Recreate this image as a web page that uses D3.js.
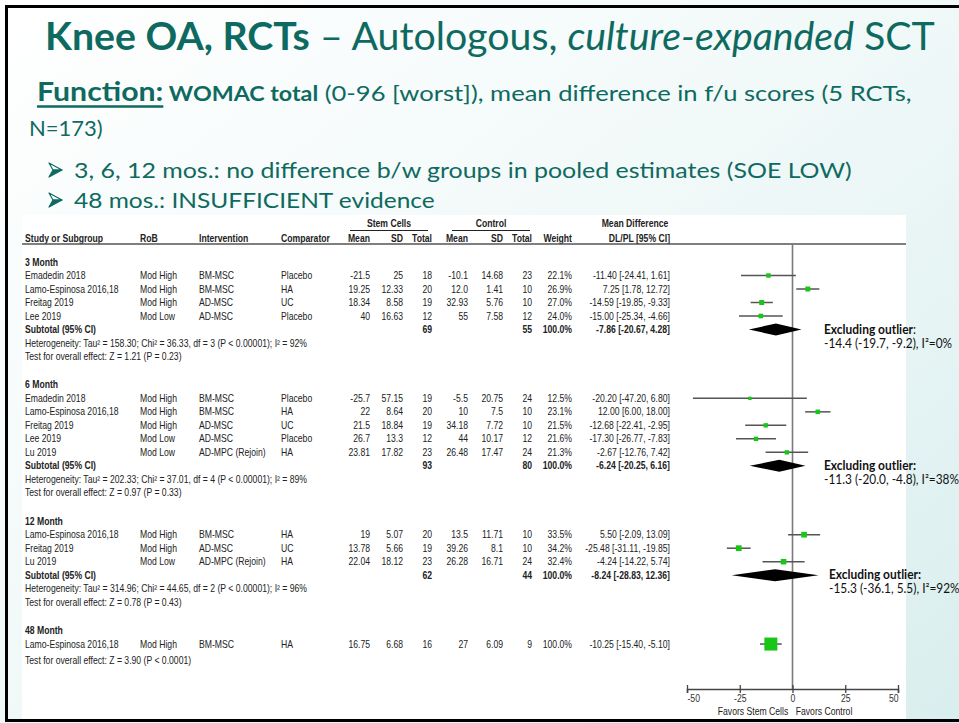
<!DOCTYPE html>
<html lang="en">
<head>
<meta charset="UTF-8">
<title>Knee OA, RCTs – WOMAC total</title>
<script src="https://cdnjs.cloudflare.com/ajax/libs/d3/7.8.5/d3.min.js"></script>
<style>
  body { margin: 0; background: #fff; }
  svg { display: block; }
  .tbl { font-family: "Liberation Sans", Arial, sans-serif; font-size: 10px; fill: #222; }
  .slide { font-family: Lato, "Noto Sans", sans-serif; white-space: pre; }
</style>
</head>
<body>
<svg id="chart" width="959" height="723"></svg>
<script>
// ---- data ----
const groups = ["3 Month", "6 Month", "12 Month", "48 Month"];
const studyGroup = [0, 0, 0, 0, 1, 1, 1, 1, 1, 2, 2, 2, 3];
const studyName = ["Emadedin 2018", "Lamo-Espinosa 2016,18", "Freitag 2019", "Lee 2019",
  "Emadedin 2018", "Lamo-Espinosa 2016,18", "Freitag 2019", "Lee 2019", "Lu 2019",
  "Lamo-Espinosa 2016,18", "Freitag 2019", "Lu 2019",
  "Lamo-Espinosa 2016,18"];
const rob = ["Mod High", "Mod High", "Mod High", "Mod Low",
  "Mod High", "Mod High", "Mod High", "Mod Low", "Mod Low",
  "Mod High", "Mod High", "Mod Low",
  "Mod High"];
const intervention = ["BM-MSC", "BM-MSC", "AD-MSC", "AD-MSC",
  "BM-MSC", "BM-MSC", "AD-MSC", "AD-MSC", "AD-MPC (Rejoin)",
  "BM-MSC", "AD-MSC", "AD-MPC (Rejoin)",
  "BM-MSC"];
const comparator = ["Placebo", "HA", "UC", "Placebo",
  "Placebo", "HA", "UC", "Placebo", "HA",
  "HA", "UC", "HA",
  "HA"];
const scMean = ["-21.5", "19.25", "18.34", "40", "-25.7", "22", "21.5", "26.7", "23.81", "19", "13.78", "22.04", "16.75"];
const scSD = ["25", "12.33", "8.58", "16.63", "57.15", "8.64", "18.84", "13.3", "17.82", "5.07", "5.66", "18.12", "6.68"];
const scN = [18, 20, 19, 12, 19, 20, 19, 12, 23, 20, 19, 23, 16];
const ctMean = ["-10.1", "12.0", "32.93", "55", "-5.5", "10", "34.18", "44", "26.48", "13.5", "39.26", "26.28", "27"];
const ctSD = ["14.68", "1.41", "5.76", "7.58", "20.75", "7.5", "7.72", "10.17", "17.47", "11.71", "8.1", "16.71", "6.09"];
const ctN = [23, 10, 10, 12, 24, 10, 10, 12, 24, 10, 10, 24, 9];
const weight = [22.1, 26.9, 27.0, 24.0, 12.5, 23.1, 21.5, 21.6, 21.3, 33.5, 34.2, 32.4, 100.0];
const md = [-11.40, 7.25, -14.59, -15.00, -20.20, 12.00, -12.68, -17.30, -2.67, 5.50, -25.48, -4.24, -10.25];
const ciLo = [-24.41, 1.78, -19.85, -25.34, -47.20, 6.00, -22.41, -26.77, -12.76, -2.09, -31.11, -14.22, -15.40];
const ciHi = [1.61, 12.72, -9.33, -4.66, 6.80, 18.00, -2.95, -7.83, 7.42, 13.09, -19.85, 5.74, -5.10];

const subN1 = [69, 93, 62, null];
const subN2 = [55, 80, 44, null];
const subMD = [-7.86, -6.24, -8.24, null];
const subLo = [-20.67, -20.25, -28.83, null];
const subHi = [4.28, 6.16, 12.36, null];
const hetText = [
  "Heterogeneity: Tau² = 158.30; Chi² = 36.33, df = 3 (P < 0.00001); I² = 92%",
  "Heterogeneity: Tau² = 202.33; Chi² = 37.01, df = 4 (P < 0.00001); I² = 89%",
  "Heterogeneity: Tau² = 314.96; Chi² = 44.65, df = 2 (P < 0.00001); I² = 96%",
  null];
const testText = [
  "Test for overall effect: Z = 1.21 (P = 0.23)",
  "Test for overall effect: Z = 0.97 (P = 0.33)",
  "Test for overall effect: Z = 0.78 (P = 0.43)",
  "Test for overall effect: Z = 3.90 (P < 0.0001)"];
const noteEst = ["-14.4 (-19.7, -9.2), I²=0%", "-11.3 (-20.0, -4.8), I²=38%", "-15.3 (-36.1, 5.5), I²=92%", null];

const axisTicks = [-50, -25, 0, 25, 50];
const favorsLabels = ["Favors Stem Cells", "Favors Control"];

// ---- drawing ----
const svg = d3.select("#chart");
const teal = "#0e6a60";
const loc = d3.formatLocale({ decimal: ".", thousands: ",", grouping: [3], currency: ["", ""], minus: "-" });

const defs = svg.append("defs");
const grad = defs.append("linearGradient").attr("id", "bg")
  .attr("x1", 0).attr("y1", 0).attr("x2", 1).attr("y2", 1);
grad.append("stop").attr("offset", "0%").attr("stop-color", "#ffffff");
grad.append("stop").attr("offset", "45%").attr("stop-color", "#f2f9f9");
grad.append("stop").attr("offset", "100%").attr("stop-color", "#d9eeee");

svg.append("rect").attr("width", 959).attr("height", 723).attr("fill", "url(#bg)");

// slide text lines, squeezed to the widths seen on the slide
function slideLine(x, y, segs, width) {
  const g = svg.append("g").attr("transform", `translate(${x},${y})`);
  const inner = g.append("g");
  const t = inner.append("text").attr("class", "slide").attr("fill", teal);
  const spans = segs.map(s => t.append("tspan")
    .attr("font-size", s.size)
    .attr("font-weight", s.bold ? 700 : 400)
    .attr("font-style", s.italic ? "italic" : "normal")
    .text(s.text));
  let k = 1;
  if (width) {
    k = width / t.node().getComputedTextLength();
    inner.attr("transform", `scale(${k},1)`);
  }
  return { inner, spans, k };
}

slideLine(45, 50, [
  { text: "Knee OA, RCTs", size: 38, bold: true },
  { text: " – Autologous, ", size: 38 },
  { text: "culture-expanded", size: 38, italic: true },
  { text: " SCT", size: 38 }
], 890);

const fn = slideLine(37, 101, [
  { text: "Function:", size: 26, bold: true },
  { text: " WOMAC total", size: 20, bold: true },
  { text: " (0-96 [worst]), mean difference in f/u scores (5 RCTs,", size: 22 }
], 875);
const fnW = fn.spans[0].node().getComputedTextLength();
fn.inner.append("line").attr("x1", 0).attr("x2", fnW).attr("y1", 5.5).attr("y2", 5.5)
  .attr("stroke", teal).attr("stroke-width", 2.4);

slideLine(29, 136, [{ text: "N=173)", size: 22 }]);

// 3-D arrowhead bullets
[170, 200].forEach(cy => {
  const b = svg.append("g").attr("transform", `translate(49,${cy})`);
  b.append("path").attr("d", "M0,-7L13,0L4,0Z").attr("fill", "#fff")
    .attr("stroke", teal).attr("stroke-width", 1.2).attr("stroke-linejoin", "round");
  b.append("path").attr("d", "M4,0L13,0L0,7Z").attr("fill", teal)
    .attr("stroke", teal).attr("stroke-width", 1.2).attr("stroke-linejoin", "round");
});
slideLine(74, 178, [{ text: "3, 6, 12 mos.: no difference b/w groups in pooled estimates (SOE LOW)", size: 22 }], 778);
slideLine(74, 208, [{ text: "48 mos.: INSUFFICIENT evidence", size: 22 }], 361);

// white forest-plot panel
svg.append("rect").attr("x", 22).attr("y", 215).attr("width", 884).attr("height", 505).attr("fill", "#fff");

const tbl = svg.append("g").attr("class", "tbl");
const sx = 0.865;
function cell(x, y, str, anchor, bold) {
  tbl.append("text")
    .attr("transform", `translate(${x},${y}) scale(${sx},1)`)
    .attr("dy", "0.36em")
    .attr("text-anchor", anchor || "start")
    .attr("font-weight", bold ? 700 : 400)
    .text(str);
}

const col = {
  name: 25, rob: 140, inter: 199, comp: 281,
  scMean: 370, scSD: 403, scN: 432, ctMean: 468, ctSD: 503, ctN: 532, weight: 572, md: 670
};

// header
cell(389, 223, "Stem Cells", "middle", true);
cell(491, 223, "Control", "middle", true);
cell(635, 223, "Mean Difference", "middle", true);
[[350, 428], [452, 530]].forEach(([a, b]) =>
  tbl.append("line").attr("x1", a).attr("x2", b).attr("y1", 230.5).attr("y2", 230.5)
    .attr("stroke", "#222").attr("stroke-width", 1));
cell(col.name, 238, "Study or Subgroup", "start", true);
cell(col.rob, 238, "RoB", "start", true);
cell(col.inter, 238, "Intervention", "start", true);
cell(col.comp, 238, "Comparator", "start", true);
cell(col.scMean, 238, "Mean", "end", true);
cell(col.scSD, 238, "SD", "end", true);
cell(col.scN, 238, "Total", "end", true);
cell(col.ctMean, 238, "Mean", "end", true);
cell(col.ctSD, 238, "SD", "end", true);
cell(col.ctN, 238, "Total", "end", true);
cell(col.weight, 238, "Weight", "end", true);
cell(col.md, 238, "DL/PL [95% CI]", "end", true);
svg.append("line").attr("x1", 22).attr("x2", 906).attr("y1", 244).attr("y2", 244)
  .attr("stroke", "#555").attr("stroke-width", 1.6);

// row layout: one index per printed line
const lineY = d3.scaleLinear().domain([0, 1]).range([262, 275.5]);
const rows = [];
let idx = 0;
groups.forEach((gName, g) => {
  rows.push({ type: "group", g, i: idx++ });
  studyName.forEach((n, s) => { if (studyGroup[s] === g) rows.push({ type: "study", s, i: idx++ }); });
  if (subMD[g] !== null) {
    rows.push({ type: "sub", g, i: idx++ });
    rows.push({ type: "het", g, i: idx++ });
  } else {
    idx += 0.2;
  }
  rows.push({ type: "test", g, i: idx++ });
  idx += 1.1;
});

const x = d3.scaleLinear().domain([-50, 50]).range([687, 898]);
const box = d3.scaleLinear().domain([0, 100]).range([2, 13]);
const f2 = loc.format(".2f"), f1 = loc.format(".1f");
const mdLabel = (m, lo, hi) => `${f2(m)} [${f2(lo)}, ${f2(hi)}]`;

const plot = svg.append("g");
const axisY = 689;
plot.append("line").attr("x1", x(0)).attr("x2", x(0)).attr("y1", 244).attr("y2", axisY)
  .attr("stroke", "#7a7a7a").attr("stroke-width", 1.6);

rows.forEach(r => {
  const y = lineY(r.i);
  if (r.type === "group") {
    cell(col.name, y, groups[r.g], "start", true);
  } else if (r.type === "study") {
    const s = r.s;
    cell(col.name, y, studyName[s]);
    cell(col.rob, y, rob[s]);
    cell(col.inter, y, intervention[s]);
    cell(col.comp, y, comparator[s]);
    cell(col.scMean, y, scMean[s], "end");
    cell(col.scSD, y, scSD[s], "end");
    cell(col.scN, y, scN[s], "end");
    cell(col.ctMean, y, ctMean[s], "end");
    cell(col.ctSD, y, ctSD[s], "end");
    cell(col.ctN, y, ctN[s], "end");
    cell(col.weight, y, f1(weight[s]) + "%", "end");
    cell(col.md, y, mdLabel(md[s], ciLo[s], ciHi[s]), "end");
    plot.append("line").attr("x1", x(ciLo[s])).attr("x2", x(ciHi[s])).attr("y1", y).attr("y2", y)
      .attr("stroke", "#555").attr("stroke-width", 1.5);
    const b = box(weight[s]);
    plot.append("rect").attr("x", x(md[s]) - b / 2).attr("y", y - b / 2)
      .attr("width", b).attr("height", b).attr("fill", "#17c617");
  } else if (r.type === "sub") {
    const g = r.g;
    cell(col.name, y, "Subtotal (95% CI)", "start", true);
    cell(col.scN, y, subN1[g], "end", true);
    cell(col.ctN, y, subN2[g], "end", true);
    cell(col.weight, y, "100.0%", "end", true);
    cell(col.md, y, mdLabel(subMD[g], subLo[g], subHi[g]), "end", true);
    plot.append("path")
      .attr("d", `M${x(subLo[g])},${y}L${x(subMD[g])},${y - 6}L${x(subHi[g])},${y}L${x(subMD[g])},${y + 6}Z`)
      .attr("fill", "#000");
    // side note
    const nx = g === 2 ? 829 : 824;
    const n1 = svg.append("text").attr("class", "slide").attr("font-size", 13).attr("fill", "#111")
      .attr("transform", `translate(${nx},${y + 4}) scale(0.92,1)`);
    n1.append("tspan").attr("font-weight", 700).text("Excluding outlier");
    n1.append("tspan").attr("font-weight", g === 0 ? 400 : 700).text(":");
    svg.append("text").attr("class", "slide").attr("font-size", 12.5).attr("fill", "#111")
      .attr("transform", `translate(${nx},${y + 18}) scale(0.95,1)`).text(noteEst[g]);
  } else if (r.type === "het") {
    cell(col.name, y, hetText[r.g]);
  } else if (r.type === "test") {
    cell(col.name, y, testText[r.g]);
  }
});

// axis
const ax = plot.append("g").attr("transform", `translate(0,${axisY})`)
  .call(d3.axisBottom(x).tickValues(axisTicks).tickFormat(loc.format("d")).tickSizeOuter(0).tickSize(4));
ax.select(".domain").attr("stroke", "#444").attr("stroke-width", 1.5);
ax.selectAll(".tick line").attr("y1", -4).attr("y2", 4).attr("stroke", "#444").attr("stroke-width", 1.3);
ax.selectAll(".tick text")
  .attr("font-family", "Liberation Sans, Arial, sans-serif").attr("font-size", 10).attr("fill", "#333")
  .attr("y", 6)
  .attr("text-anchor", (d, i) => i === 0 ? "start" : i === axisTicks.length - 1 ? "end" : "middle")
  .attr("transform", "scale(0.865,1)")
  .attr("x", 0);

cell(753, 711, favorsLabels[0], "middle");
cell(824, 711, favorsLabels[1], "middle");

// slide frame
svg.append("rect").attr("x", 6.5).attr("y", 6.5).attr("width", 970).attr("height", 714)
  .attr("fill", "none").attr("stroke", "#000").attr("stroke-width", 3);
</script>
</body>
</html>
